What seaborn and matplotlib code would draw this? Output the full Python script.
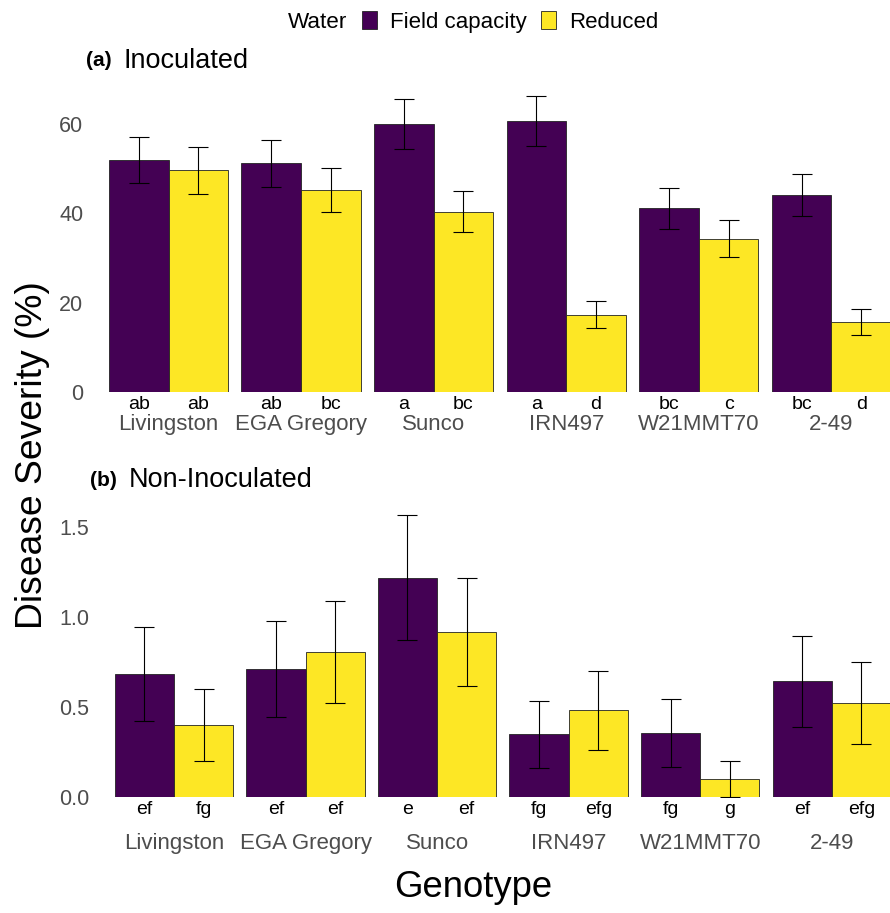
import pandas as pd
import seaborn as sns
import matplotlib.pyplot as plt
from matplotlib.patches import Patch

# datos
genotypes = ['Livingston', 'EGA Gregory', 'Sunco', 'IRN497', 'W21MMT70', '2-49']
water_levels = ['Field capacity', 'Reduced']

# (a) Inoculated
inoc_fc = [51.9, 51.2, 60.1, 60.8, 41.1, 44.1]
inoc_red = [49.6, 45.2, 40.4, 17.3, 34.3, 15.6]
inoc_fc_se = [5.2, 5.2, 5.6, 5.6, 4.6, 4.8]
inoc_red_se = [5.2, 4.9, 4.6, 3.0, 4.2, 2.9]
inoc_fc_let = ['ab', 'ab', 'a', 'a', 'bc', 'bc']
inoc_red_let = ['ab', 'bc', 'bc', 'd', 'c', 'd']

# (b) Non-Inoculated
non_fc = [0.685, 0.713, 1.22, 0.35, 0.355, 0.644]
non_red = [0.403, 0.809, 0.918, 0.483, 0.102, 0.522]
non_fc_se = [0.26, 0.267, 0.348, 0.186, 0.189, 0.254]
non_red_se = [0.2, 0.283, 0.302, 0.219, 0.099, 0.228]
non_fc_let = ['ef', 'ef', 'e', 'fg', 'fg', 'ef']
non_red_let = ['fg', 'ef', 'ef', 'efg', 'g', 'efg']

colors = ['#440154', '#FDE725']
grey = '#4D4D4D'

sns.set_style('white')
plt.rcParams['font.family'] = ['Liberation Sans', 'DejaVu Sans']
plt.rcParams['text.color'] = 'black'

fig = plt.figure(figsize=(8.9, 9.13), dpi=100)
W, H = 890, 913


def make_df(fc, red):
    return pd.DataFrame({
        'Genotype': genotypes * 2,
        'Severity': fc + red,
        'Water': [water_levels[0]] * 6 + [water_levels[1]] * 6,
    })


def panel(rect, fc, red, fc_se, red_se, fc_let, red_let, ymax, yticks, ylabels, label_pad):
    ax = fig.add_axes(rect)
    df = make_df(fc, red)
    sns.barplot(data=df, x='Genotype', y='Severity', hue='Water', order=genotypes,
                hue_order=water_levels, palette=colors, saturation=1, width=0.9,
                errorbar=None, edgecolor='#222222', linewidth=0.6, legend=False, ax=ax)
    for cont, se, lets in zip(ax.containers, [fc_se, red_se], [fc_let, red_let]):
        xs = [p.get_x() + p.get_width() / 2 for p in cont]
        ys = [p.get_height() for p in cont]
        ax.errorbar(xs, ys, yerr=se, fmt='none', ecolor='black', elinewidth=0.8,
                    capsize=7, capthick=0.8, zorder=5)
        for x, t in zip(xs, lets):
            ax.annotate(t, (x, 0), xycoords=('data', 'axes fraction'),
                        xytext=(0, -3), textcoords='offset points',
                        ha='center', va='top', fontsize=14, color='black')
    ax.set_xlim(-0.6, 5.45)
    ax.set_ylim(0, ymax)
    ax.set_yticks(yticks)
    ax.set_yticklabels(ylabels)
    ax.tick_params(axis='y', length=0, pad=4, labelsize=15.5, labelcolor=grey)
    ax.tick_params(axis='x', length=0, pad=label_pad, labelsize=16, labelcolor=grey)
    ax.set_xlabel('')
    ax.set_ylabel('')
    for s in ax.spines.values():
        s.set_visible(False)
    ax.patch.set_alpha(0)
    return ax


panel([89 / W, 1 - 391.7 / H, 802 / W, 299.7 / H], inoc_fc, inoc_red, inoc_fc_se, inoc_red_se,
      inoc_fc_let, inoc_red_let, 67.2, [0, 20, 40, 60], ['0', '20', '40', '60'], 16)
panel([95 / W, 1 - 797.3 / H, 796 / W, 292.3 / H], non_fc, non_red, non_fc_se, non_red_se,
      non_fc_let, non_red_let, 1.624, [0, 0.5, 1.0, 1.5], ['0.0', '0.5', '1.0', '1.5'], 25.5)

# titulos de paneles
fig.text(86 / W, 1 - 61 / H, '(a)', fontsize=15, fontweight='bold', va='center')
fig.text(123 / W, 1 - 61 / H, 'Inoculated', fontsize=19.5, va='center')
fig.text(90 / W, 1 - 480 / H, '(b)', fontsize=15, fontweight='bold', va='center')
fig.text(129 / W, 1 - 480 / H, 'Non-Inoculated', fontsize=19.5, va='center')

# etiquetas de ejes
fig.text(33 / W, 1 - 455 / H, 'Disease Severity (%)', fontsize=26.8, rotation=90,
         ha='center', va='center')
fig.text(473 / W, 1 - 887 / H, 'Genotype', fontsize=26.3, ha='center', va='center')

# leyenda
fig.text(288 / W, 1 - 22 / H, 'Water', fontsize=16.2, va='center')
handles = [Patch(facecolor=c, edgecolor='#222222', linewidth=0.6) for c in colors]
fig.legend(handles, water_levels, loc='center left', bbox_to_anchor=(362 / W, 1 - 22 / H),
           ncol=2, frameon=False, fontsize=16, handlelength=0.68, handleheight=0.9,
           handletextpad=0.6, columnspacing=0.6, borderpad=0, borderaxespad=0)

fig.savefig('out.png', dpi=100)
